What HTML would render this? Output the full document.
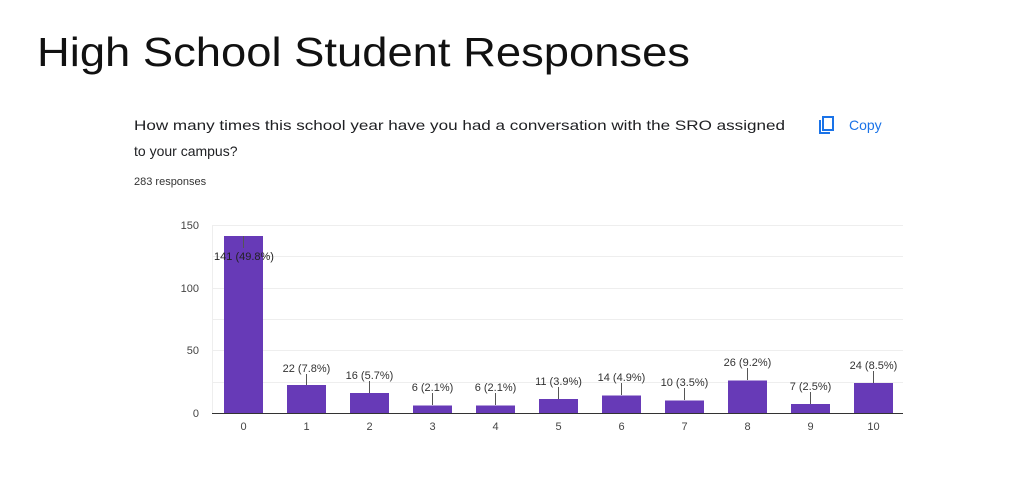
<!DOCTYPE html>
<html><head><style>
body{margin:0;width:1024px;height:495px;background:#fff;overflow:hidden;font-family:"Liberation Sans",Arial,sans-serif}
</style></head><body>
<svg width="1024" height="495" xmlns="http://www.w3.org/2000/svg" font-family="Liberation Sans, Arial, sans-serif">
<text x="37" y="66" font-size="41" fill="#111" textLength="653" lengthAdjust="spacingAndGlyphs">High School Student Responses</text>
<text x="134" y="130" font-size="14" fill="#202124" textLength="651" lengthAdjust="spacingAndGlyphs">How many times this school year have you had a conversation with the SRO assigned</text>
<text x="134" y="156" font-size="14" fill="#202124">to your campus?</text>
<text x="134" y="185" font-size="11" fill="#333">283 responses</text>
<g stroke="#1a73e8" stroke-width="2" fill="none"><rect x="823" y="117" width="10" height="13"/><path d="M820 120v13h10"/></g>
<text x="849" y="130" font-size="14" fill="#1a73e8">Copy</text>
<g stroke="#eee" stroke-width="1">
<line x1="212" y1="225.5" x2="903" y2="225.5"/><line x1="212" y1="256.5" x2="903" y2="256.5"/><line x1="212" y1="288.5" x2="903" y2="288.5"/><line x1="212" y1="319.5" x2="903" y2="319.5"/><line x1="212" y1="350.5" x2="903" y2="350.5"/><line x1="212" y1="382.5" x2="903" y2="382.5"/><line x1="212.5" y1="225" x2="212.5" y2="413"/>
</g>
<g font-size="11" fill="#444" text-anchor="end">
<text x="199" y="229">150</text><text x="199" y="292">100</text><text x="199" y="354">50</text><text x="199" y="417">0</text>
</g>
<g fill="#673ab7">
<rect x="224" y="236" width="39" height="177"/>
<rect x="287" y="385" width="39" height="28"/>
<rect x="350" y="393" width="39" height="20"/>
<rect x="413" y="405.5" width="39" height="7.5"/>
<rect x="476" y="405.5" width="39" height="7.5"/>
<rect x="539" y="399" width="39" height="14"/>
<rect x="602" y="395.5" width="39" height="17.5"/>
<rect x="665" y="400.5" width="39" height="12.5"/>
<rect x="728" y="380.5" width="39" height="32.5"/>
<rect x="791" y="404" width="39" height="9"/>
<rect x="854" y="383" width="39" height="30"/>
</g>
<line x1="212" y1="413.5" x2="903" y2="413.5" stroke="#333" stroke-width="1"/>
<g stroke="#555" stroke-width="1">
<line x1="243.5" y1="236" x2="243.5" y2="248"/>
<line x1="306.5" y1="385" x2="306.5" y2="374"/>
<line x1="369.5" y1="393" x2="369.5" y2="381"/>
<line x1="432.5" y1="405" x2="432.5" y2="393"/>
<line x1="495.5" y1="405" x2="495.5" y2="393"/>
<line x1="558.5" y1="399" x2="558.5" y2="387"/>
<line x1="621.5" y1="395" x2="621.5" y2="383"/>
<line x1="684.5" y1="400" x2="684.5" y2="388"/>
<line x1="747.5" y1="380" x2="747.5" y2="368"/>
<line x1="810.5" y1="404" x2="810.5" y2="392"/>
<line x1="873.5" y1="383" x2="873.5" y2="371"/>
</g>
<g font-size="11" fill="#333" text-anchor="middle">
<text x="244" y="260" fill="#222">141 (49.8%)</text>
<text x="306.5" y="372">22 (7.8%)</text>
<text x="369.5" y="379">16 (5.7%)</text>
<text x="432.5" y="391">6 (2.1%)</text>
<text x="495.5" y="391">6 (2.1%)</text>
<text x="558.5" y="385">11 (3.9%)</text>
<text x="621.5" y="381">14 (4.9%)</text>
<text x="684.5" y="386">10 (3.5%)</text>
<text x="747.5" y="366">26 (9.2%)</text>
<text x="810.5" y="390">7 (2.5%)</text>
<text x="873.5" y="369">24 (8.5%)</text>
</g>
<g font-size="11" fill="#444" text-anchor="middle">
<text x="243.5" y="430">0</text><text x="306.5" y="430">1</text><text x="369.5" y="430">2</text><text x="432.5" y="430">3</text><text x="495.5" y="430">4</text><text x="558.5" y="430">5</text><text x="621.5" y="430">6</text><text x="684.5" y="430">7</text><text x="747.5" y="430">8</text><text x="810.5" y="430">9</text><text x="873.5" y="430">10</text>
</g>
</svg>
</body></html>
